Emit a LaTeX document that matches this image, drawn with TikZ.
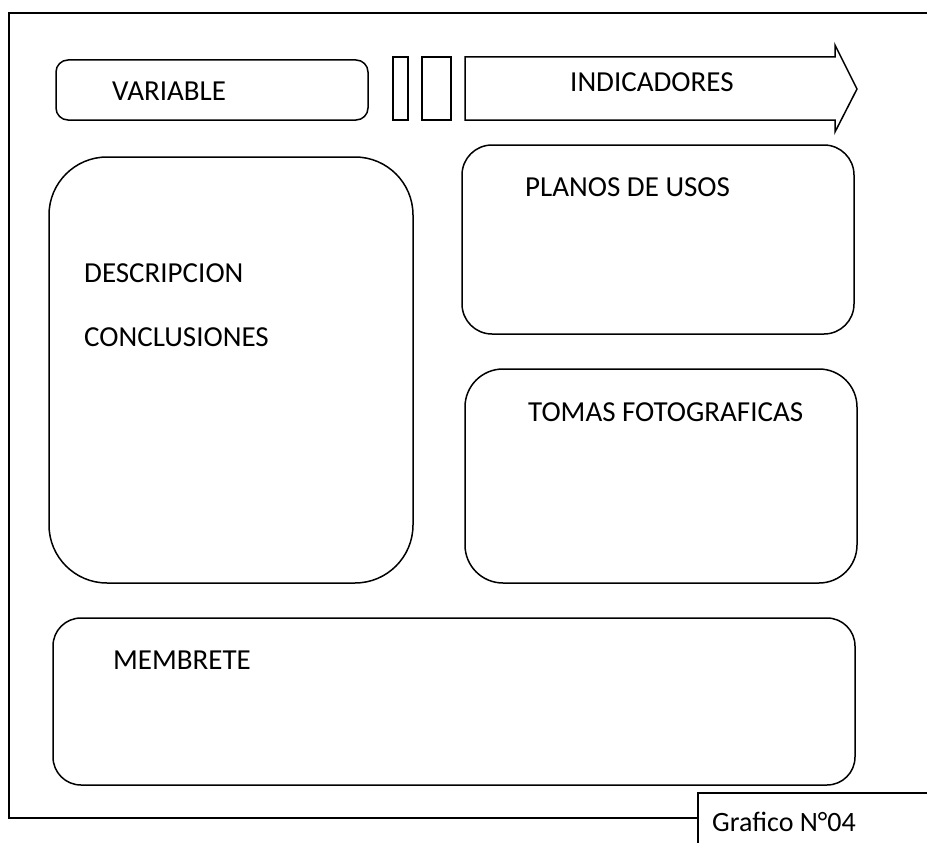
\documentclass[tikz,border=0pt]{standalone}
\usepackage{fontspec}
\setmainfont{Carlito}
\begin{document}
\begin{tikzpicture}[x=1pt,y=-1pt,
  box/.style={draw=black,line width=1.5pt},
  frame/.style={draw=black,line width=2pt},
  lbl/.style={anchor=base west,inner sep=0pt,font=\fontsize{29}{34}\selectfont}]
\useasboundingbox (0,0) rectangle (927,843);
\clip (0,0) rectangle (927,843);
% outer frame
\draw[frame] (927,13) -- (9,13) -- (9,818) -- (698,818);
% Grafico box
\draw[frame] (698,843) -- (698,793) -- (927,793);
\node[lbl,font=\fontsize{28}{34}\selectfont] (graf) at (712,831) {Grafico N°04};
% VARIABLE
\draw[box,rounded corners=12pt] (56,60) rectangle (368,120);
\node[lbl] (var) at (112,101) {VARIABLE};
% small rectangles
\draw[box] (393,57) rectangle (408,120);
\draw[box] (422,57) rectangle (451,120);
% arrow
\draw[box,line join=miter] (465,57) -- (835,57) -- (835,45) -- (857,89) -- (835,132) -- (835,120) -- (465,120) -- cycle;
\node[lbl] (ind) at (570,92) {INDICADORES};
% PLANOS DE USOS
\draw[box,rounded corners=30pt] (462,145) rectangle (854,334);
\node[lbl] (plan) at (525,196) {PLANOS DE USOS};
% TOMAS FOTOGRAFICAS
\draw[box,rounded corners=38pt] (465,369) rectangle (857,583);
\node[lbl] (tom) at (528,421) {TOMAS FOTOGRAFICAS};
% DESCRIPCION / CONCLUSIONES
\draw[box,rounded corners=58pt] (49,157) rectangle (413,583);
\node[lbl] (desc) at (84,282) {DESCRIPCION};
\node[lbl] (conc) at (84,346) {CONCLUSIONES};
% MEMBRETE
\draw[box,rounded corners=28pt] (53,618) rectangle (855,785);
\node[lbl] (memb) at (113,669) {MEMBRETE};
\end{tikzpicture}
\end{document}
